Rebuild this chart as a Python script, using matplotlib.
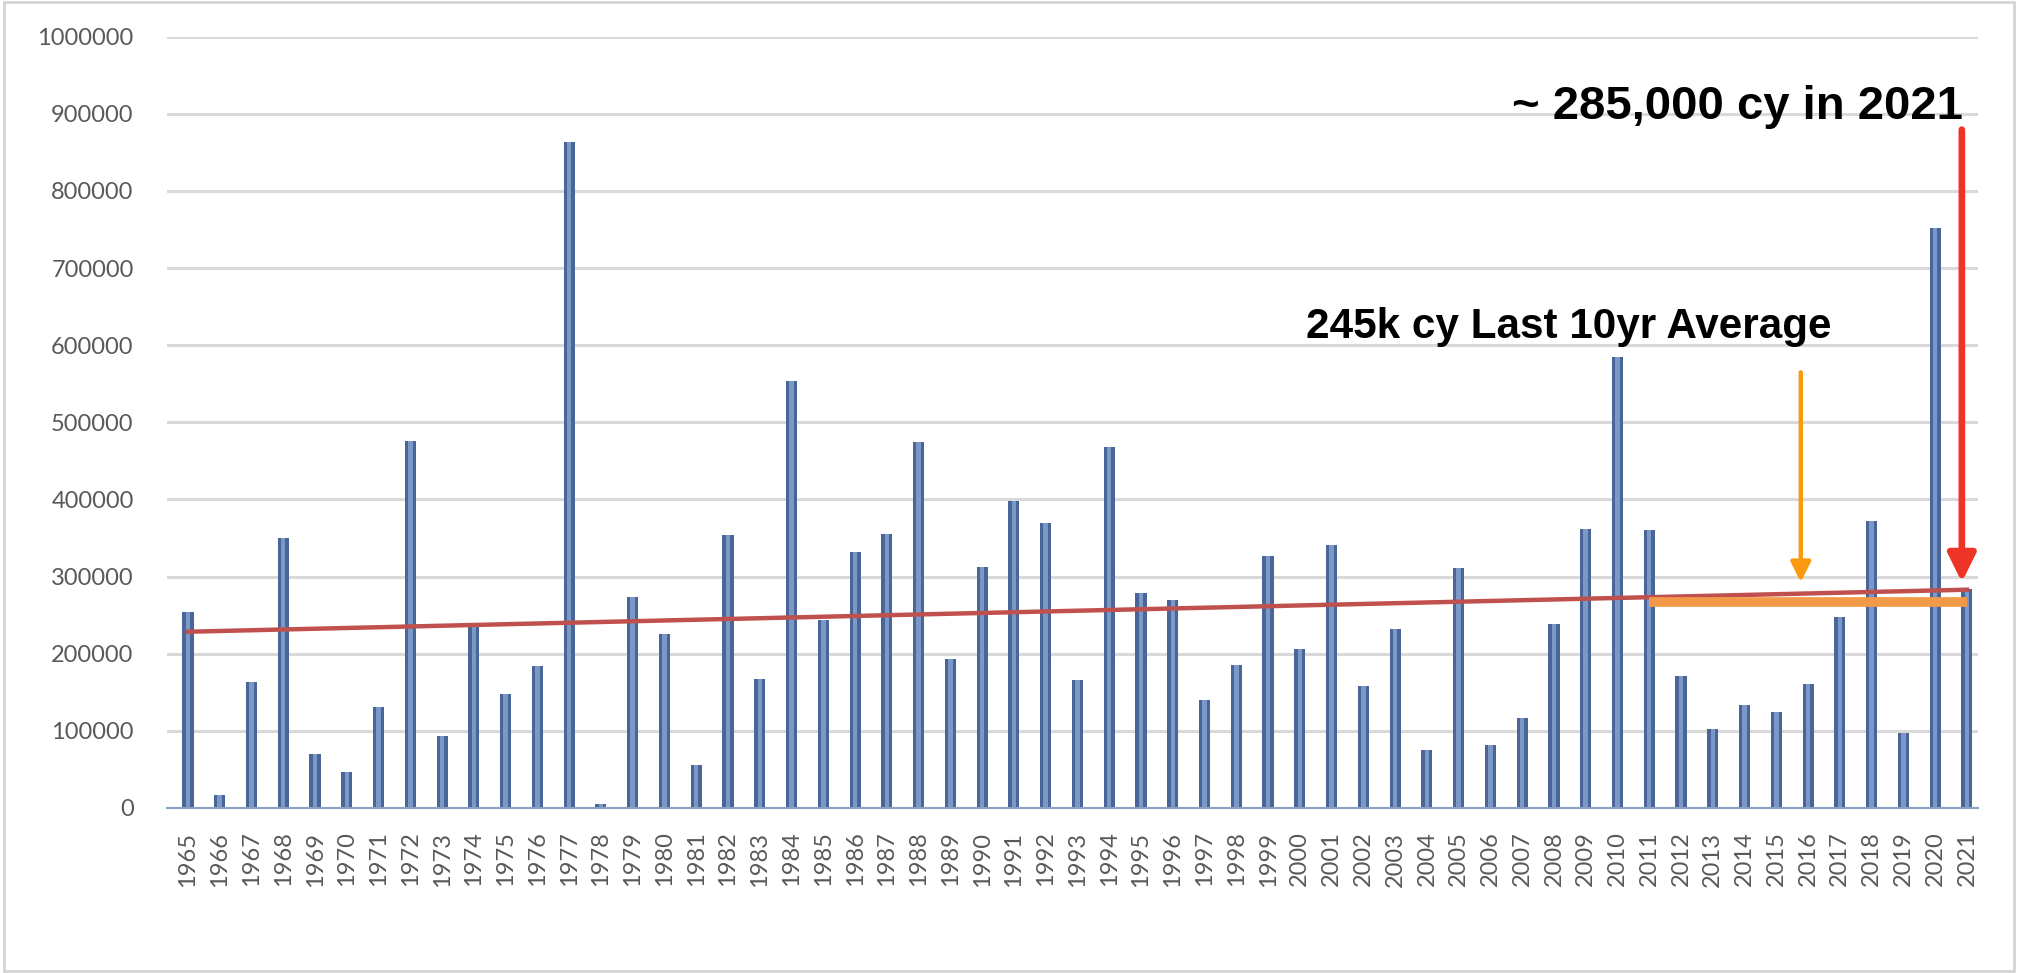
import matplotlib.pyplot as plt
from matplotlib.patches import Rectangle

# data
years = [str(y) for y in range(1965, 2022)]
volumes = [254000, 16500, 163500, 350000, 70000, 46000, 130500, 476000, 93500, 235000,
           148000, 183500, 864000, 4800, 274000, 225000, 55600, 354000, 167500, 554000,
           244000, 332000, 355500, 474000, 193000, 313000, 397500, 370000, 165500, 468000,
           279000, 269500, 139500, 185000, 326500, 206500, 340500, 157500, 231500, 75500,
           311000, 81500, 116500, 238500, 361500, 585000, 360000, 171000, 103000, 134000,
           124500, 161000, 248000, 371500, 97000, 752000, 284000]
trend_ends = [228500, 283000]          # trend line value at 1965 and 2021
avg_years = ['2011', '2021']           # span of the orange average band
avg_level = 266800
yticks = list(range(0, 1000001, 100000))

x = list(range(len(years)))

fig = plt.figure(figsize=(20.18, 9.73), dpi=100)
ax = fig.add_axes([0.08275, 0.1696, 0.9802 - 0.08275, 0.9623 - 0.1696])

# bars (dark outer + lighter core for the cylinder look)
ax.bar(x, volumes, width=0.35, color='#4a6698', zorder=2)
ax.bar(x, volumes, width=0.14, color='#7c98c7', zorder=3)

# linear trend
ax.plot([0, len(years) - 1], trend_ends, color='#c0504d', lw=3.2, zorder=4)

# 10 year average band
i0, i1 = years.index(avg_years[0]), years.index(avg_years[1])
ax.plot([i0, i1], [avg_level, avg_level], color='#f39a48', lw=7,
        solid_capstyle='butt', zorder=5)

# arrows
ax.annotate('', xy=(50.77, 292700), xytext=(50.77, 564800),
            arrowprops=dict(arrowstyle='-|>,head_length=0.6,head_width=0.3',
                            mutation_scale=20, color='#fb9a0e', lw=3.2,
                            shrinkA=0, shrinkB=0), zorder=6)
ax.annotate('', xy=(55.84, 292700), xytext=(55.84, 879500),
            arrowprops=dict(arrowstyle='-|>,head_length=0.85,head_width=0.42',
                            mutation_scale=20, color='#ee3426', lw=4.8,
                            shrinkA=0, shrinkB=0), zorder=6)

ax.text(55.87, 893800, '~ 285,000 cy in 2021', ha='right', va='baseline',
        fontsize=34, fontweight='bold', family='Liberation Sans', color='black', zorder=7)
ax.text(35.2, 609400, '245k cy Last 10yr Average', ha='left', va='baseline',
        fontsize=30.4, fontweight='bold', family='Liberation Sans', color='black', zorder=7)

ax.set_xlim(-0.66, 56.35)
ax.set_ylim(0, 1000000)
ax.set_yticks(yticks)
ax.set_yticklabels([str(v) for v in yticks], family='Lato')
ax.set_xticks(x)
ax.set_xticklabels(years, rotation=90, family='Lato')
ax.tick_params(axis='y', length=0, pad=24, labelsize=17, labelcolor='#595959')
ax.tick_params(axis='x', length=0, pad=17, labelsize=17, labelcolor='#595959')

ax.grid(axis='y', color='#d9d9d9', lw=2.2, zorder=0)
ax.set_axisbelow(True)
for s in ['top', 'right', 'left']:
    ax.spines[s].set_visible(False)
ax.spines['bottom'].set_color('#8aa0c4')
ax.spines['bottom'].set_linewidth(1.5)
ax.spines['bottom'].set_zorder(3)

# light frame around the whole picture
fig.patches.append(Rectangle((4 / 2018, 2 / 973), 2010 / 2018, 969 / 973,
                             transform=fig.transFigure, fill=False,
                             edgecolor='#d4d4d4', lw=2))

fig.savefig('out.png', dpi=100)
